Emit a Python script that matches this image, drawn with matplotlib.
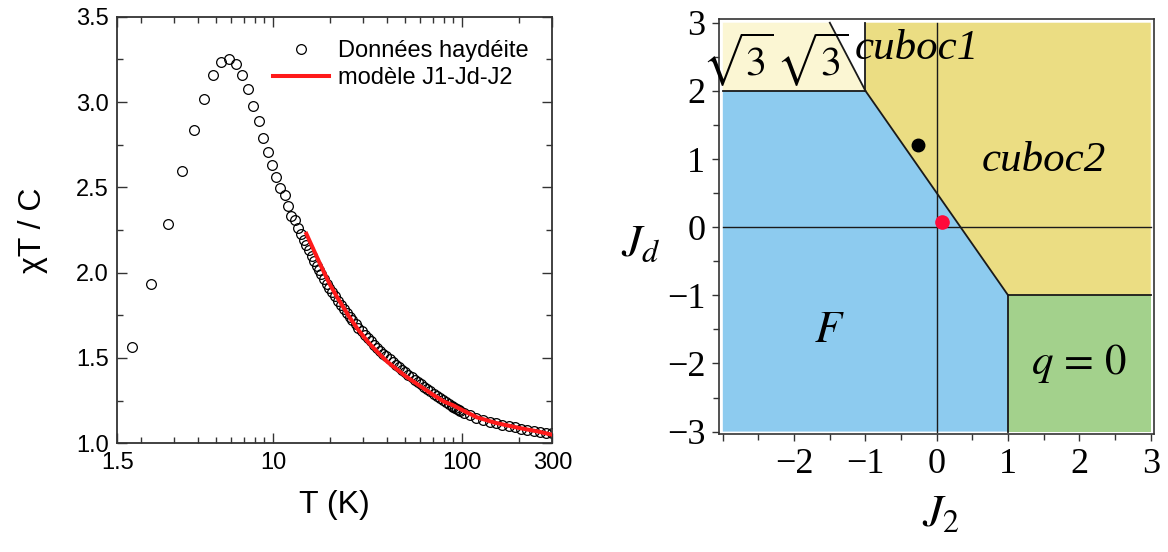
import numpy as np
import matplotlib
matplotlib.use('Agg')
import matplotlib.pyplot as plt
from matplotlib.ticker import FixedLocator, FixedFormatter, MultipleLocator

# ---- left panel: chi*T/C vs T (haydeite data + J1-Jd-J2 model) ----
T_data = [1.79, 2.27, 2.78, 3.29, 3.82, 4.30, 4.84, 5.33, 5.88, 6.35, 6.86, 7.41,
          7.88, 8.40, 8.85, 9.45, 9.88, 10.4, 10.9, 11.5, 12.0, 12.5, 13.0, 13.6, 14.0,
          14.5, 15.0, 15.5, 16.0, 16.5, 17.0, 17.5, 18.0, 18.6, 19.2, 19.8, 20.5,
          21.2, 22.0, 22.8, 23.6, 24.5, 25.4, 26.3, 27.3, 28.3, 29.4, 30.5, 31.7,
          32.9, 34.2, 35.5, 36.9, 38.3, 39.8, 41.3, 42.9, 44.6, 46.3, 48.1, 50.0,
          52.0, 54.0, 56.1, 58.3, 60.6, 63.0, 65.5, 68.0, 70.7, 73.5, 76.3, 79.3,
          82.4, 85.6, 88.0, 90.0, 92.0, 94.0, 96.0, 98.0,
          102, 110, 119, 129, 140, 151, 163, 176, 190, 205, 221, 239, 258, 278, 300]
chiT_data = [1.565, 1.933, 2.287, 2.598, 2.838, 3.019, 3.156, 3.232, 3.253, 3.222, 3.160, 3.076,
             2.978, 2.887, 2.789, 2.705, 2.629, 2.559, 2.495, 2.456, 2.388, 2.335, 2.306, 2.263, 2.228,
             2.190, 2.160, 2.130, 2.100, 2.070, 2.040, 2.015, 1.990, 1.962, 1.935, 1.912, 1.887,
             1.862, 1.836, 1.812, 1.789, 1.765, 1.742, 1.721, 1.699, 1.678, 1.657, 1.637, 1.617,
             1.598, 1.579, 1.561, 1.543, 1.526, 1.509, 1.493, 1.477, 1.461, 1.446, 1.431, 1.416,
             1.401, 1.387, 1.373, 1.359, 1.345, 1.331, 1.317, 1.304, 1.291, 1.278, 1.265, 1.253,
             1.241, 1.229, 1.221, 1.214, 1.208, 1.202, 1.196, 1.190,
             1.180, 1.165, 1.150, 1.138, 1.127, 1.117, 1.108, 1.100, 1.093, 1.086, 1.080, 1.074,
             1.068, 1.063, 1.058]

T_model = [15.0, 16.3, 18.0, 20.0, 22.0, 25.0, 28.0, 32.0, 36.0, 40.0, 50.0, 60.0,
           70.0, 80.0, 90.0, 100.0, 120.0, 150.0, 200.0, 250.0, 300.0]
chiT_model = [2.228, 2.14, 2.035, 1.93, 1.85, 1.75, 1.67, 1.59, 1.53, 1.48, 1.395, 1.335,
              1.285, 1.245, 1.222, 1.195, 1.152, 1.12, 1.09, 1.07, 1.05]

x_ticks_left = [1.5, 10, 100, 300]
x_labels_left = ['1.5', '10', '100', '300']

# ---- right panel: J2-Jd phase diagram ----
region_sqrt3 = [(-3, 2), (-1, 2), (-1.5, 3), (-3, 3)]
region_cuboc = [(-1, 3), (3, 3), (3, -1), (1, -1), (-1, 2)]
region_F = [(-3, 2), (-1, 2), (1, -1), (1, -3), (-3, -3)]
region_q0 = [(1, -1), (3, -1), (3, -3), (1, -3)]
region_colors = ['#fbf6d3', '#ebdd83', '#8dcbef', '#a3d18c']

boundaries = [
    [(-1.5, 3), (-1, 2)],
    [(-3, 2), (-1, 2)],
    [(-1, 2), (-1, 3)],
    [(-1, 2), (1, -1)],
    [(1, -1), (3, -1)],
    [(1, -1), (1, -3)],
]
axis_lines = [[(0, -3), (0, 3)], [(-3, 0), (3, 0)]]

labels_txt = [r'$\sqrt{3}\,\sqrt{3}$', 'cuboc1', 'cuboc2', r'$F$', r'$q\,=\,0$']
labels_x = [-2.27, -0.28, 1.5, -1.5, 2.0]
labels_y = [2.45, 2.62, 0.97, -1.5, -2.0]
labels_size = [30, 31, 31, 32, 31]

point_black = (-0.27, 1.21)
point_red = (0.07, 0.08)

j_ticks = [-3, -2, -1, 0, 1, 2, 3]
jd_labels = ['\u22123', '\u22122', '\u22121', '0', '1', '2', '3']
j2_labels = ['', '\u22122', '\u22121', '0', '1', '2', '3']

plt.rcParams['mathtext.fontset'] = 'stix'
fig = plt.figure(figsize=(11.68, 5.52), dpi=100)

# left panel
ax1 = fig.add_axes([0.1004, 0.1969, 0.3725, 0.7728])
ax1.set_xscale('log')
ax1.plot(T_data, chiT_data, 'o', mfc='none', mec='black', ms=7, mew=0.9,
         label='Données haydéite', zorder=2)
ax1.plot(T_model, chiT_model, '-', color='#ff1a1a', lw=2.9,
         label='modèle J1-Jd-J2', zorder=3)
ax1.set_xlim(1.5, 300)
ax1.set_ylim(1.0, 3.5)
ax1.xaxis.set_major_locator(FixedLocator(x_ticks_left))
ax1.xaxis.set_major_formatter(FixedFormatter(x_labels_left))
minors = [k * d for d in (1, 10, 100) for k in range(2, 10) if 1.5 < k * d < 300]
ax1.xaxis.set_minor_locator(FixedLocator(minors))
ax1.xaxis.set_minor_formatter(FixedFormatter([''] * len(minors)))
ax1.yaxis.set_major_locator(MultipleLocator(0.5))
ax1.yaxis.set_minor_locator(MultipleLocator(0.25))
ax1.yaxis.set_major_formatter(matplotlib.ticker.FormatStrFormatter('%.1f'))
ax1.tick_params(which='both', direction='in', top=True, right=True, width=1.0,
                color='#333333')
ax1.tick_params(which='major', length=7, labelsize=17, pad=6)
ax1.tick_params(which='minor', length=4)
for lab in ax1.get_xticklabels() + ax1.get_yticklabels():
    lab.set_family('Liberation Sans')
for sp in ax1.spines.values():
    sp.set_linewidth(1.3)
    sp.set_color('#333333')
ax1.set_xlabel('T (K)', family='Liberation Sans', fontsize=23, labelpad=12)
ax1.set_ylabel('\u03c7T / C', family='Liberation Sans', fontsize=23)
ax1.yaxis.set_label_coords(-0.16, 0.5)
ax1.legend(loc='upper left', bbox_to_anchor=(0.357, 0.945), frameon=False,
           prop={'family': 'Liberation Sans', 'size': 17}, handlelength=2.4,
           handletextpad=0.35, borderpad=0, borderaxespad=0, labelspacing=0.2,
           numpoints=1)

# right panel
ax2 = fig.add_axes([0.6158, 0.2132, 0.3725, 0.7518])
for reg, col in zip([region_sqrt3, region_cuboc, region_F, region_q0], region_colors):
    xs, ys = zip(*reg)
    ax2.fill(xs, ys, color=col, lw=0, zorder=1)
for seg in boundaries:
    xs, ys = zip(*seg)
    ax2.plot(xs, ys, color='#1a1a1a', lw=1.3, zorder=3)
for seg in axis_lines:
    xs, ys = zip(*seg)
    ax2.plot(xs, ys, color='#1a1a1a', lw=1.0, zorder=2)
ax2.plot(*point_black, 'o', color='black', ms=9, zorder=4)
ax2.plot(*point_red, 'o', color='#ff0a3a', ms=9.5, zorder=4)
for txt, x, y, s in zip(labels_txt, labels_x, labels_y, labels_size):
    if txt.startswith('$'):
        ax2.text(x, y, txt, fontsize=s, ha='center', va='center', zorder=5)
    else:
        ax2.text(x, y, txt, fontsize=s, family='Liberation Serif', style='italic',
                 ha='center', va='center', zorder=5)
ax2.set_xlim(-3.05, 3.05)
ax2.set_ylim(-3.04, 3.05)
ax2.xaxis.set_major_locator(FixedLocator(j_ticks))
ax2.xaxis.set_major_formatter(FixedFormatter(j2_labels))
ax2.yaxis.set_major_locator(FixedLocator(j_ticks))
ax2.yaxis.set_major_formatter(FixedFormatter(jd_labels))
ax2.xaxis.set_minor_locator(MultipleLocator(0.5))
ax2.yaxis.set_minor_locator(MultipleLocator(0.5))
ax2.tick_params(which='both', direction='out', width=1.0, color='#333333')
ax2.tick_params(which='major', length=5, labelsize=26, pad=5)
ax2.tick_params(which='minor', length=4)
for lab in ax2.get_xticklabels() + ax2.get_yticklabels():
    lab.set_family('Liberation Serif')
for sp in ax2.spines.values():
    sp.set_linewidth(1.2)
    sp.set_color('#333333')
ax2.text(-0.18, 0.46, r'$J_d$', transform=ax2.transAxes, fontsize=33,
         ha='center', va='center')
ax2.text(0.51, -0.19, r'$J_2$', transform=ax2.transAxes, fontsize=33,
         ha='center', va='center')

fig.savefig('out.png', dpi=100)
